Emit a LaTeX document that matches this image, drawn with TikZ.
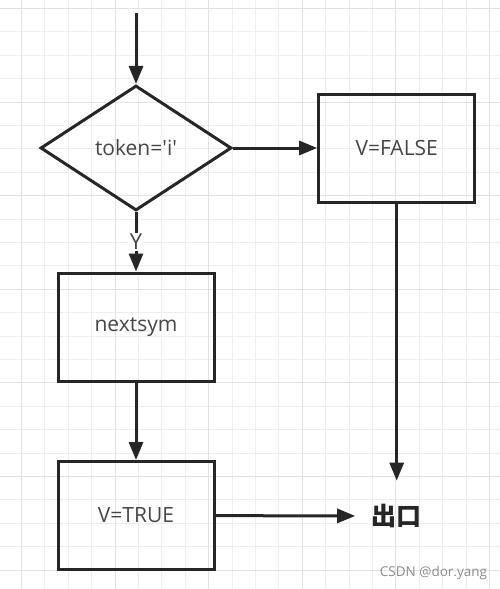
\documentclass[tikz,border=0pt]{standalone}
\usepackage{fontspec}
\setmainfont{Open Sans}
\newfontfamily\cjk{Noto Sans CJK SC}
\usetikzlibrary{arrows.meta,shapes.geometric}
\definecolor{linec}{RGB}{38,38,38}
\definecolor{textc}{RGB}{70,70,70}
\definecolor{gridc}{RGB}{238,238,238}
\definecolor{gridmaj}{RGB}{226,226,226}
\tikzset{
  box/.style={draw=linec,minimum width=156pt,minimum height=108pt,inner sep=0pt,
    text=textc,font=\fontsize{21}{25}\selectfont},
  dec/.style={diamond,draw=linec,minimum width=191pt,minimum height=125pt,inner sep=0pt,
    text=textc,font=\fontsize{21}{25}\selectfont},
  ylab/.style={fill=white,inner sep=1pt,text=textc,font=\fontsize{22}{26}\selectfont},
  exitc/.style={inner sep=1pt,text=linec,font=\cjk\bfseries\fontsize{25}{29}\selectfont},
  wmark/.style={inner sep=0pt,text=black!45,font=\fontsize{13.5}{16}\selectfont}
}
\begin{document}
\begin{tikzpicture}[x=1pt,y=-1pt,line width=3pt,color=linec,
    >={Triangle[length=18pt,width=14pt]}]
  \useasboundingbox (0,0) rectangle (500,589);
  % grid
  \foreach \i in {0,...,20}
    \draw[gridc,line width=1pt] ({21.5+23.4*\i},0) -- ({21.5+23.4*\i},589);
  \foreach \j in {0,...,24}
    \draw[gridc,line width=1pt] (0,{8.5+23.4*\j}) -- (500,{8.5+23.4*\j});
  \foreach \i in {0,4,...,20}
    \draw[gridmaj,line width=1pt] ({21.5+23.4*\i},0) -- ({21.5+23.4*\i},589);
  \foreach \j in {0,4,...,24}
    \draw[gridmaj,line width=1pt] (0,{8.5+23.4*\j}) -- (500,{8.5+23.4*\j});
  % nodes
  \coordinate (start) at (136,13);
  \node[dec] (dec) at (136,148) {token=\textquotesingle i\textquotesingle};
  \node[box] (vfalse) at (396.7,148) {V=FALSE};
  \node[box] (nextsym) at (136,327) {nextsym};
  \node[box] (vtrue) at (136,515.5) {V=TRUE};
  \node[exitc] (exit) at (396.7,516) {出口};
  \node[wmark] (wm) at (433.5,572.5) {CSDN @dor.yang};
  % arrows
  \draw[->] (start) -- (dec);
  \draw[->] (dec) -- (vfalse);
  \draw[->] (dec) -- node[ylab]{Y} (nextsym);
  \draw[->] (nextsym) -- (vtrue);
  \draw[->,shorten >=21pt] (vfalse) -- (exit);
  \draw[->,shorten >=14pt] (vtrue) -- (exit);
\end{tikzpicture}
\end{document}
